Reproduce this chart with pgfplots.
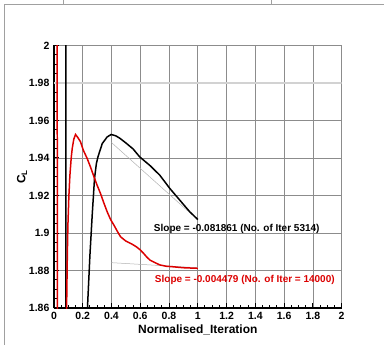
\documentclass[border=0pt]{standalone}
\usepackage{fontspec}
\setmainfont{Liberation Sans}
\usepackage{pgfplots}
\pgfplotsset{compat=1.18}
\definecolor{cred}{RGB}{220,0,0}
\definecolor{cgrid}{RGB}{140,140,140}
\begin{document}
\begin{tikzpicture}
\begin{axis}[name=ax, scale only axis, width=288pt, height=263pt,
  xmin=0, xmax=2, ymin=1.86, ymax=2,
  xtick={0,0.2,0.4,0.6,0.8,1,1.2,1.4,1.6,1.8,2},
  ytick={1.86,1.88,1.9,1.92,1.94,1.96,1.98,2},
  minor tick num=3,
  axis x line*=bottom, axis y line*=left,
  axis line style={-, black, line width=2pt},
  tick align=inside,
  major tick length=5pt, minor tick length=3pt,
  every tick/.style={black, line width=1pt},
  grid=major, major grid style={cgrid, line width=0.6pt},
  /pgf/number format/assume math mode=true,
  tick label style={font=\bfseries\fontsize{10.5}{12}\selectfont},
  xticklabel style={yshift=-1pt},
  yticklabel style={xshift=-1pt},
  xlabel={\bfseries Normalised\_Iteration},
  ylabel={\bfseries C\textsubscript{L}},
  label style={font=\fontsize{12}{14}\selectfont},
  xlabel style={at={(axis description cs:0.5,-0.0837)}, anchor=center},
  ylabel style={at={(axis description cs:-0.111,0.5)}, anchor=center, rotate=0},
]
\addplot[color={rgb,255:red,210;green,210;blue,210}, line width=1.5pt] coordinates {(0,1.98) (2,1.98)};
\addplot[gray!60, line width=0.5pt] coordinates {(0.4,1.9482) (0.93,1.9118)};
\addplot[gray!60, line width=0.5pt] coordinates {(0.4,1.8842) (1.0,1.8815)};
\addplot[black, line width=1.5pt] coordinates {
(0.083,2.1) (0.0835,1.80) (0.22,1.80) (0.226,1.84) (0.233,1.86) (0.25,1.888) (0.266,1.9096)
(0.282,1.929) (0.295,1.937) (0.306,1.9406) (0.336,1.9477) (0.37,1.9512) (0.398,1.9525)
(0.43,1.9518) (0.458,1.9505) (0.5,1.948) (0.55,1.9448) (0.597,1.9405) (0.667,1.936)
(0.736,1.9308) (0.806,1.9237) (0.875,1.9175) (0.944,1.9113) (1.0,1.9072)};
\addplot[cred, line width=1.5pt] coordinates {
(0.022,2.1) (0.024,1.80) (0.085,1.80) (0.088,1.86) (0.093,1.888) (0.097,1.904) (0.104,1.92)
(0.111,1.9308) (0.12,1.940) (0.127,1.945) (0.138,1.950) (0.15,1.9525) (0.165,1.951)
(0.185,1.9486) (0.205,1.944) (0.231,1.9397) (0.255,1.935) (0.278,1.930) (0.3,1.9255)
(0.324,1.921) (0.347,1.916) (0.37,1.9113) (0.395,1.907) (0.417,1.9042) (0.44,1.901)
(0.463,1.898) (0.5,1.8957) (0.54,1.8942) (0.574,1.8926) (0.6,1.891) (0.625,1.889)
(0.644,1.8873) (0.667,1.8856) (0.7,1.8843) (0.736,1.883) (0.78,1.8823) (0.83,1.882)
(0.9,1.8815) (1.0,1.8812)};
\node[anchor=west, inner sep=0pt, font=\bfseries\fontsize{10}{12}\selectfont] at (axis cs:0.694,1.902) {Slope = -0.081861 (No. of Iter 5314)};
\node[anchor=west, inner sep=0pt, text=cred, font=\bfseries\fontsize{10}{12}\selectfont] at (axis cs:0.701,1.8748) {Slope = -0.004479 (No. of Iter = 14000)};
\end{axis}
\pgfresetboundingbox
\path ([shift={(-54pt,-37pt)}]ax.south west) rectangle ([shift={(42pt,45pt)}]ax.north east);
\draw[color={rgb,255:red,160;green,160;blue,160}, line width=0.8pt]
  ([shift={(-50pt,-37pt)}]ax.south west) -- ([shift={(-50pt,304pt)}]ax.south west) -- ([shift={(330pt,304pt)}]ax.south west);
\draw[color={rgb,255:red,160;green,160;blue,160}, line width=0.8pt]
  ([shift={(9pt,304pt)}]ax.south west) -- ([shift={(9pt,308pt)}]ax.south west);
\draw[color={rgb,255:red,160;green,160;blue,160}, line width=0.8pt]
  ([shift={(218pt,304pt)}]ax.south west) -- ([shift={(218pt,308pt)}]ax.south west);
\end{tikzpicture}
\end{document}
